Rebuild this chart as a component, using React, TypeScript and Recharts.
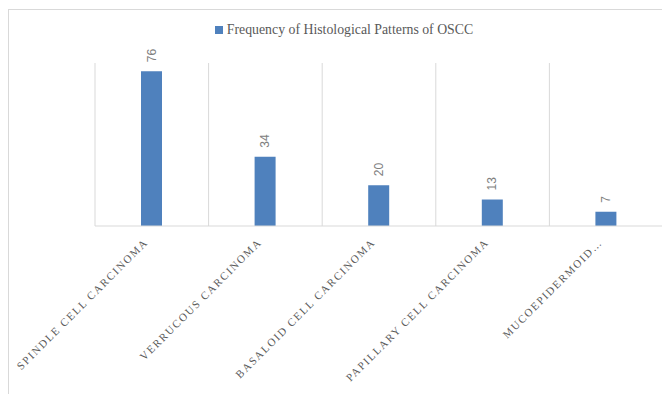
import { BarChart, Bar, XAxis, YAxis, CartesianGrid, Legend, LabelList } from "recharts";

const categories = [
  "Spindle cell carcinoma",
  "Verrucous carcinoma",
  "Basaloid cell carcinoma",
  "Papillary cell carcinoma",
  "Mucoepidermoid…",
];
const frequency = [76, 34, 20, 13, 7];
const seriesName = "Frequency of Histological Patterns of OSCC";

const data = categories.map((name, i) => ({ name, value: frequency[i] }));

const BLUE = "#4f81bd";

function Tick(props: any) {
  const { x, y, payload } = props;
  return (
    <text
      transform={`translate(${x - 3},${y + 9}) rotate(-45)`}
      textAnchor="end"
      fill="#595959"
      fontSize={11}
      letterSpacing={1.6}
      fontFamily="'Liberation Serif', serif"
    >
      {String(payload.value).toUpperCase()}
    </text>
  );
}

function ValueLabel(props: any) {
  const { x, y, width, value } = props;
  const cx = x + width / 2;
  const ty = y - 9;
  return (
    <text
      transform={`translate(${cx + 4},${ty}) rotate(-90)`}
      textAnchor="start"
      fill="#808080"
      fontSize={12}
      fontFamily="'Liberation Sans', sans-serif"
    >
      {value}
    </text>
  );
}

function LegendBox() {
  return (
    <div
      style={{
        display: "flex",
        justifyContent: "center",
        alignItems: "center",
        fontFamily: "'Liberation Serif', serif",
        fontSize: 13.8,
        color: "#595959",
      }}
    >
      <span style={{ width: 8, height: 8, background: BLUE, marginRight: 4, display: "inline-block" }} />
      <span>{seriesName}</span>
    </div>
  );
}

export default function App() {
  return (
    <div
      style={{
        width: 662,
        height: 385,
        borderTop: "1px solid #d9d9d9",
        borderLeft: "1px solid #d9d9d9",
        marginTop: 1,
        boxSizing: "border-box",
      }}
    >
      <BarChart
        width={661}
        height={384}
        data={data}
        margin={{ top: 33, right: 7, bottom: 0, left: 86 }}
      >
        <CartesianGrid
          horizontal={false}
          stroke="#d9d9d9"
          verticalCoordinatesGenerator={({ offset }: any) => {
            const n = categories.length;
            const w = offset.width / n;
            return Array.from({ length: n + 1 }, (_, i) => offset.left + i * w);
          }}
        />
        <Legend
          verticalAlign="top"
          align="center"
          height={20}
          wrapperStyle={{ top: 12, left: 0, width: 670 }}
          content={() => <LegendBox />}
        />
        <XAxis
          dataKey="name"
          interval={0}
          height={168}
          tickLine={false}
          axisLine={{ stroke: "#d9d9d9" }}
          tick={<Tick />}
        />
        <YAxis hide domain={[0, 80]} />
        <Bar dataKey="value" fill={BLUE} barSize={21} isAnimationActive={false}>
          <LabelList dataKey="value" content={<ValueLabel />} />
        </Bar>
      </BarChart>
    </div>
  );
}
